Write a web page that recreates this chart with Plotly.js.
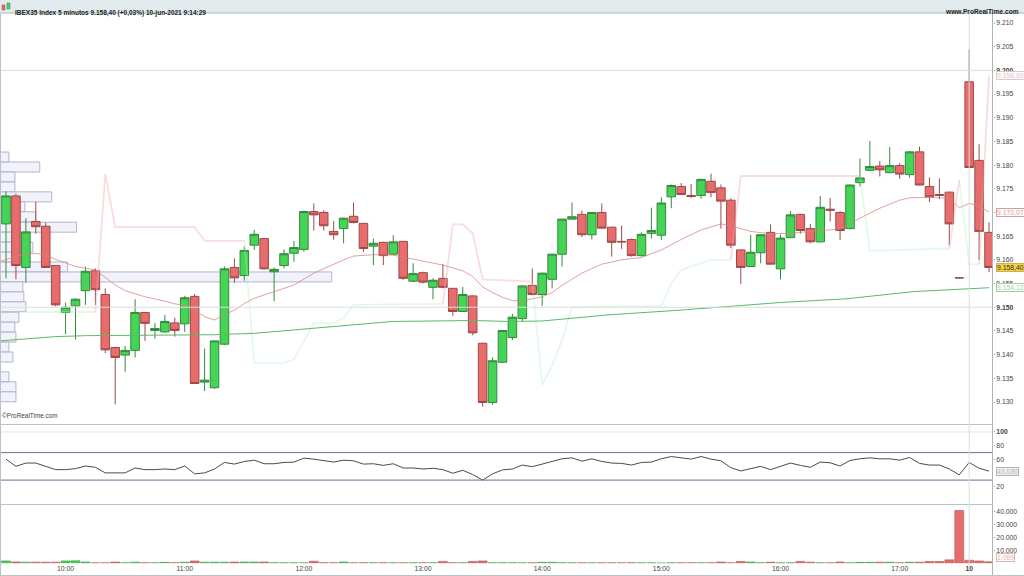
<!DOCTYPE html>
<html>
<head>
<meta charset="utf-8">
<script src="https://cdn.plot.ly/plotly-3.0.1.min.js"></script>
<style>
    html, body { margin: 0; padding: 0; background: #fff; }
    #chart { width: 1024px; height: 576px; }
</style>
</head>
<body>
<div id="chart"></div>
<script>
// IBEX35 5 min candles. bar number = 5 min slot, 0 is 9:30
const opens = [9167.6,9173.5,9158.4,9168.1,9167.1,9158.8,9148.9,9150.3,9153.5,9157.7,
    9152.7,9141.5,9139.9,9140.9,9148.9,9145.1,9144.8,9146.7,9146.5,9152.3,
    9134.2,9133,9142.2,9158.4,9156.7,9163.1,9164.5,9157.5,9158.8,9161.4,
    9162.2,9170.2,9170,9166,9166.6,9169.2,9167.7,9162.9,9163.7,9161.2,
    9163.9,9155.5,9157.3,9154.2,9156.1,9154,9149.1,9152.4,9142.4,9129.9,
    9138.4,9143.6,9147.6,9154.6,9152.7,9155.9,9161.2,9168.6,9169.6,9165.3,
    9170,9166.9,9163.9,9164.3,9160.9,9165.6,9165.2,9173.3,9175.5,9173.6,
    9173.6,9176.6,9175.2,9172.6,9162.1,9158.6,9161.5,9165.8,9158.1,9164.7,
    9169.6,9166.6,9163.8,9170.7,9170,9166.6,9176.3,9178.9,9179.8,9178.4,
    9179.9,9178,9182.8,9175.5,9173.8,9174.3,9156.2,9197.6,9181,9165.8];
const highs = [9174.4,9174,9168.8,9172.3,9167.9,9158.9,9151,9151.9,9158.6,9158.2,
    9154,9141.6,9141.8,9151.7,9149,9146.7,9148.4,9147.8,9152.4,9152.8,
    9141.3,9143,9158.6,9160.3,9162.8,9166.3,9164.6,9158.4,9162.2,9164,
    9170.4,9171.9,9170.5,9168.2,9168.9,9172.1,9167.8,9164.5,9163.8,9165.2,
    9164,9159.3,9157.5,9156.1,9159.1,9154,9154.3,9152.5,9142.5,9139.4,
    9145.2,9148.6,9154.6,9158.2,9157.3,9161.3,9168.7,9172.1,9170.4,9170.1,
    9171.9,9167,9167.2,9164.5,9165.8,9171,9173.2,9175.9,9176.2,9176,
    9177.1,9178.2,9175.9,9173,9162.2,9165.3,9165.4,9167.5,9165.3,9170.3,
    9169.7,9167.6,9173.5,9173.1,9170.3,9175.9,9181.4,9185.1,9180.9,9183.8,
    9180.4,9183,9183.9,9177.4,9177.2,9174.4,9156.2,9204.4,9184.4,9167.9];
const lows = [9156.1,9155.9,9155.2,9165.5,9158.4,9150.2,9144.3,9143.2,9150.5,9150.5,
    9140.3,9129.5,9136.4,9139.4,9142.9,9143.4,9144.7,9143.8,9144.8,9133.9,
    9132.3,9132.8,9142,9155.2,9155.6,9162.1,9158,9151.3,9158.2,9159.6,
    9161.7,9166.2,9166.2,9164.3,9163.5,9167.7,9161.7,9158.9,9158.9,9161,
    9155.8,9155.3,9155,9151.7,9154,9148.2,9149,9144.1,9129,9129.4,
    9138.2,9143.1,9147,9152.5,9150.3,9154,9158.6,9168.5,9164.8,9164.3,
    9166.6,9160.7,9162.3,9160.7,9160.7,9164.5,9164.2,9170.9,9173.7,9173.1,
    9172.9,9173.2,9166.6,9162.5,9154.9,9158.5,9159.3,9159,9155.9,9164.6,
    9165.5,9163.5,9163.7,9168.1,9164.2,9166.5,9175.5,9178.8,9177.6,9178.3,
    9177.1,9177.4,9175.7,9172.2,9172.8,9163.1,9156.2,9179.4,9160,9157.4];
const closes = [9173.5,9158.8,9165.9,9167,9158.4,9150.5,9150,9151.7,9157.6,9153.7,
    9141,9139.4,9140.9,9148.9,9146.6,9145.5,9147,9145.1,9152,9133.9,
    9134.6,9142.9,9158.1,9156.2,9162,9165.4,9158.1,9158,9161.3,9162.6,
    9170.2,9169.5,9167.2,9165.3,9168.8,9167.9,9162.4,9163.5,9160.9,9163.8,
    9156.1,9157.1,9155.3,9155.7,9154.2,9149.1,9152.7,9144.6,9129.9,9138.7,
    9145.1,9147.9,9154.5,9152.7,9157.2,9161.2,9168.6,9169.1,9165.3,9170,
    9166.7,9163.7,9163.8,9160.9,9165.4,9166.2,9172,9175.7,9173.8,9173.4,
    9177,9174.2,9172.4,9163.1,9158.4,9161.6,9165.3,9159.1,9164.6,9169.5,
    9166.2,9163.8,9171.1,9170.5,9166.2,9175.8,9177.3,9179.7,9179,9179.9,
    9178.1,9182.8,9175.8,9173.3,9173.6,9167.6,9156.2,9179.5,9166,9158.4];
const volumes = [1800,1000,800,800,800,800,1800,1900,900,300,
    300,900,400,800,400,400,700,400,800,1800,
    800,800,800,900,900,900,900,400,300,300,
    300,1500,400,400,900,300,400,400,400,300,
    300,300,300,300,1400,400,400,1400,1800,400,
    400,400,300,300,700,700,400,300,300,300,
    300,300,300,400,300,300,200,300,300,400,
    400,400,900,400,1300,900,400,800,300,300,
    1400,800,300,300,900,300,700,700,800,800,
    300,800,800,1300,1300,2600,40800,2300,1800,1089];

// slow average, only the spots that were read
const maSlowBars = [-0.6,0,1,3,4,5,7,9,10,11,12,14,16,17,18,19,20,21,22,23,24,25,27,29,31,33,
    34,35,37,39,41,44,46,47,48,49,50,51,52,54,55,56,58,60,62,64,66,68,
    70,72,73,75,77,79,81,84,86,88,90,91,93,95,96,97,98,99];
const maSlowValues = [9159.6,9160.1,9160.8,9161.4,9161,9160.1,9158.6,9157.9,9156.3,9154.7,9153.5,9152.2,9151.3,9150.7,9150.5,9149.4,9148,9147.3,9148.4,9149.4,9150.8,9151.9,9153.3,9154.7,9157.2,9159.1,
    9160,9160.8,9161.1,9161,9160.1,9158.9,9157.7,9156.5,9154.3,9153.1,9152.1,9151.4,9151.4,9152.2,9153.1,9154.6,9157.2,9159.1,9160,9160.5,9162.1,9164.3,
    9166.3,9167.6,9167.2,9166,9165.5,9165.6,9166,9166.5,9168.8,9170.9,9172.6,9173.1,9173.2,9173,9171,9171.9,9171.4,9170.07];

const maLongBars = [-0.6,5,8,17,21,25,33,39,47,50.5,54,60.7,68,78,84.7,91.4,99];
const maLongValues = [9142.9,9143.8,9144,9144.1,9144.2,9144.5,9145.9,9147,9147.2,9147,9147.1,9148.4,9149.4,9151,9151.8,9153.3,9154.12];

// stop line, pale red above price and pale green below
const stopUpBars = [9,10,11,19,20,24,null,44,45,46,47,48,53,null,73,74,86,null,95,96,null,98,99];
const stopUpValues = [9149,9178.1,9166.9,9166.9,9164,9164,null,9150.7,9167.5,9167.5,9165.6,9155.9,9155.4,null,9160,9177.7,9177.7,null,9162.4,9176.9,null,9159.1,9198.89];
const stopDownBars = [2,9,null,24,25,28,29,31,33,34,35,44,null,53,54,55,56,57,66,67,68,71,73,null,86,87,95,null,96,97,98];
const stopDownValues = [9149,9149,null,9164,9138.2,9138.2,9139,9146.6,9146.6,9147.7,9150.5,9150.7,null,9155.4,9133.6,9137.8,9143,9150.1,9150.3,9155,9157.9,9160,9160,null,9177.7,9161.9,9162.4,null,9176.9,9159.1,9159.1];

// volume at price on the left side
const profilePrices = [9181.7,9179.6,9177.5,9175.4,9173.3,9171.2,9169.1,9166.9,9164.8,9162.7,9160.6,9158.5,9156.4,9154.3,9152.2,9150.1,9147.9,9145.8,9143.7,9141.6,9139.5,9135.3,9133.2,9131.1];
const profileSizes = [0.9,4,1.5,1.5,5.2,2.5,3.6,7.7,2,3.3,2,6.8,33.4,2.3,2.4,2.6,1.9,1.5,1.6,0.9,1.3,0.9,1.6,1.6];

const rsiValues = [60.5,50,54.8,54.8,50,45.2,45.2,46.7,50.5,48.6,
    40.5,40,40.5,47.6,45.2,45.2,46.2,45.2,50.5,39.1,
    40.5,46.2,55.7,53.3,57.1,59,53.8,53.8,55.7,56.2,
    61.9,60.5,58.1,56.2,59,58.1,53.3,53.8,51.4,53.8,
    47.6,47.6,46.2,47.2,45.2,40,44.3,38.1,30,39.1,
    44.8,46.2,51.9,49.5,53.3,56.7,61,62.4,57.6,61,
    57.1,54.8,54.3,51.9,55.7,56.2,61,64.3,62.4,60.5,
    64.3,60.5,58.1,48.1,43.3,46.7,50,45.2,50,54.8,
    51.4,48.6,56.2,55.2,50.5,58.6,61,62.4,61,61,
    59,62.9,54.3,51.9,51.9,46.2,37.6,55.7,47.2,43.03];

const timeTickBars = [6,18,30,42,54,66,78,90,97];
const timeTickLabels = ["10:00","11:00","12:00","13:00","14:00","15:00","16:00","17:00","<b>10</b>"];
const priceTicks = [9130,9135,9140,9145,9150,9155,9160,9165,9170,9175,9180,9185,9190,9195,9200,9205,9210];
const priceTickLabels = ["9.130","9.135","9.140","9.145","<b>9.150</b>","9.155","9.160","9.165","9.170","9.175","9.180","9.185","9.190","9.195","<b>9.200</b>","9.205","9.210"];
const rsiTicks = [20,60,80,100];
const rsiTickLabels = ["20","60","80","<b>100</b>"];
const volumeTicks = [10000,20000,30000,40000];
const volumeTickLabels = ["10.000","20.000","30.000","40.000"];

const bars = opens.map((v, i) => i);
const GREEN = "#45d455", RED = "#e86c6c";
const fontName = "'Liberation Sans', Arial, sans-serif";

// pixel row of the picture to paper y
function py(row) { return 1 - row / 576; }
function px(col) { return col / 1024; }

let traces = [
    {
        type: "bar", orientation: "h",
        y: profilePrices, x: profileSizes, base: -0.6, width: 2.11,
        marker: { color: "rgba(236,236,250,0.7)", line: { color: "#b4b4d0", width: 1 } },
        xaxis: "x", yaxis: "y", hoverinfo: "skip"
    },
    {
        type: "candlestick", x: bars, open: opens, high: highs, low: lows, close: closes,
        whiskerwidth: 0,
        increasing: { fillcolor: GREEN, line: { color: "#33893f", width: 1 } },
        decreasing: { fillcolor: RED, line: { color: "#9c4a48", width: 1 } },
        xaxis: "x", yaxis: "y"
    },
    {
        type: "scatter", mode: "lines", x: stopUpBars, y: stopUpValues,
        line: { color: "rgba(240,170,170,0.4)", width: 1.8 }, xaxis: "x", yaxis: "y", hoverinfo: "skip"
    },
    {
        type: "scatter", mode: "lines", x: stopDownBars, y: stopDownValues,
        line: { color: "rgba(170,235,175,0.32)", width: 1.8 }, xaxis: "x", yaxis: "y", hoverinfo: "skip"
    },
    {
        type: "scatter", mode: "lines", x: maSlowBars, y: maSlowValues,
        line: { color: "rgba(215,130,130,0.75)", width: 1 }, xaxis: "x", yaxis: "y", hoverinfo: "skip"
    },
    {
        type: "scatter", mode: "lines", x: maLongBars, y: maLongValues,
        line: { color: "#5cb868", width: 1 }, xaxis: "x", yaxis: "y", hoverinfo: "skip"
    },
    {
        type: "scatter", mode: "lines", x: bars, y: rsiValues,
        line: { color: "#4a4a4a", width: 1 }, xaxis: "x", yaxis: "y2"
    },
    {
        type: "bar", x: bars, y: volumes, width: 0.9,
        marker: {
            color: closes.map((c, i) => c > opens[i] ? GREEN : RED),
            line: { color: closes.map((c, i) => c > opens[i] ? "#33893f" : "#9c4a48"), width: 0.5 }
        },
        xaxis: "x", yaxis: "y3"
    }
];

function sideLabel(text, y, yref, color, bg, yshift) {
    return {
        text: text, xref: "paper", x: px(995.5), xanchor: "left", yref: yref, y: y, yshift: yshift || 0,
        showarrow: false, bgcolor: bg || "#fff", bordercolor: color, borderwidth: 1, borderpad: 0,
        font: { family: fontName, size: 6.8, color: color === "#cdb24a" ? "#333" : color }
    };
}

function hLine(row, color, width) {
    return { type: "line", xref: "paper", yref: "paper", x0: 0, x1: px(993), y0: py(row), y1: py(row), line: { color: color, width: width || 1 } };
}

let layout = {
    width: 1024, height: 576,
    margin: { l: 0, r: 0, t: 0, b: 0 },
    paper_bgcolor: "#fff", plot_bgcolor: "#fff",
    showlegend: false,
    boxgap: 0.14,
    boxgroupgap: 0,
    font: { family: fontName, size: 6.8, color: "#444" },
    xaxis: {
        domain: [0, px(993)], range: [-0.604, 99.4], anchor: "y3",
        tickmode: "array", tickvals: timeTickBars, ticktext: timeTickLabels,
        showgrid: false, zeroline: false, showline: false, ticks: "", tickfont: { size: 6.8, color: "#444" },
        rangeslider: { visible: false }
    },
    yaxis: {
        domain: [py(424.5), py(13)], range: [9125.25, 9212.11], side: "right", anchor: "x",
        tickmode: "array", tickvals: priceTicks, ticktext: priceTickLabels,
        showgrid: false, zeroline: false, ticks: "outside", ticklen: 1, tickcolor: "#999"
    },
    yaxis2: {
        domain: [py(504.5), py(424.5)], range: [-5.5, 110.9], side: "right", anchor: "x",
        tickmode: "array", tickvals: rsiTicks, ticktext: rsiTickLabels,
        showgrid: false, zeroline: false, ticks: "outside", ticklen: 1, tickcolor: "#999"
    },
    yaxis3: {
        domain: [py(563.2), py(504.5)], range: [0, 45500], side: "right", anchor: "x",
        tickmode: "array", tickvals: volumeTicks, ticktext: volumeTickLabels,
        showgrid: false, zeroline: false, ticks: "outside", ticklen: 1, tickcolor: "#999"
    },
    shapes: [
        // header strip
        { type: "rect", xref: "paper", yref: "paper", x0: 0, x1: 1, y0: py(13), y1: 1, fillcolor: "#e2eaee", line: { width: 0 } },
        { type: "line", xref: "paper", yref: "paper", x0: 0, x1: 1, y0: py(13), y1: py(13), line: { color: "#a9bac2", width: 1 } },
        { type: "rect", xref: "paper", yref: "paper", x0: px(2), x1: px(5), y0: py(10), y1: py(5), fillcolor: RED, line: { color: "#9c4a48", width: 0.5 } },
        { type: "rect", xref: "paper", yref: "paper", x0: px(7), x1: px(10), y0: py(9), y1: py(3), fillcolor: GREEN, line: { color: "#33893f", width: 0.5 } },
        // round price levels
        { type: "line", xref: "paper", yref: "y", x0: 0, x1: px(993), y0: 9200, y1: 9200, line: { color: "#dcdcdc", width: 1 } },
        { type: "line", xref: "paper", yref: "y", x0: 0, x1: px(993), y0: 9150, y1: 9150, line: { color: "#dcdcdc", width: 1 } },
        // panel separators
        hLine(424.5, "#b9c2c6"),
        hLine(504.5, "#b9c2c6"),
        { type: "line", xref: "paper", yref: "y2", x0: 0, x1: px(993), y0: 100, y1: 100, line: { color: "#e4e4e4", width: 1 } },
        { type: "line", xref: "paper", yref: "y2", x0: 0, x1: px(993), y0: 70, y1: 70, line: { color: "#6c6c98", width: 1 } },
        { type: "line", xref: "paper", yref: "y2", x0: 0, x1: px(993), y0: 30, y1: 30, line: { color: "#6c6c98", width: 1 } },
        // day change
        { type: "line", xref: "x", yref: "paper", x0: 97, x1: 97, y0: py(566), y1: py(13), line: { color: "#d8dee0", width: 1 } },
        // frame
        { type: "line", xref: "paper", yref: "paper", x0: px(992.5), x1: px(992.5), y0: 0, y1: py(13), line: { color: "#aab6bb", width: 1 } },
        { type: "line", xref: "paper", yref: "paper", x0: px(0.5), x1: px(0.5), y0: 0, y1: py(13), line: { color: "#b9c2c6", width: 1 } },
        { type: "line", xref: "paper", yref: "paper", x0: 0, x1: 1, y0: py(575.5), y1: py(575.5), line: { color: "#b9c2c6", width: 1 } }
    ],
    annotations: [
        {
            text: "<b>IBEX35 Index 5 minutos 9.158,40 (+0,03%) 10-jun-2021 9:14:29</b>",
            xref: "paper", yref: "paper", x: px(13), y: py(6.5), xanchor: "left", showarrow: false,
            font: { family: fontName, size: 6.5, color: "#222" }
        },
        {
            text: "<b>www.ProRealTime.com</b>",
            xref: "paper", yref: "paper", x: px(1021), y: py(6.5), xanchor: "right", showarrow: false,
            font: { family: fontName, size: 6.6, color: "#222" }
        },
        {
            text: "©ProRealTime.com",
            xref: "paper", yref: "paper", x: px(0), y: py(420.5), xanchor: "left", showarrow: false,
            font: { family: fontName, size: 6.4, color: "#444" }
        },
        sideLabel("9.198,89", 9198.89, "y", "#e3c4c4"),
        sideLabel("9.170,07", 9170.07, "y", "#d99a9a"),
        sideLabel("9.158,40", 9158.4, "y", "#cdb24a", "#f5cf45"),
        sideLabel("9.154,12", 9154.12, "y", "#9ed3a5"),
        sideLabel("43,030", 43.03, "y2", "#b5b5b5", "#f0f0f0"),
        sideLabel("1.089", 1089, "y3", "#e3b0b0", "#fff", 4)
    ]
};

Plotly.newPlot("chart", traces, layout, { displayModeBar: false, staticPlot: true });
</script>
</body>
</html>
